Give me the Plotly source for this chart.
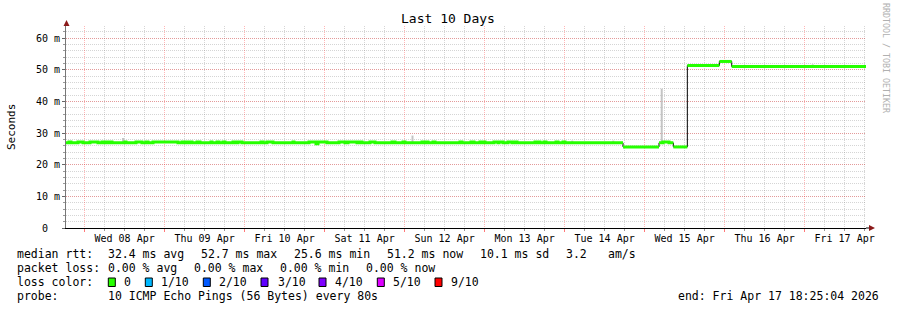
import plotly.graph_objects as go

# ---------------- data ----------------
start_time = "2026-04-07 18:25:04"
end_time = "2026-04-17 18:25:04"

# median RTT (ms) as a step series: start of each step and its value
median_time = [
    "2026-04-07 18:25", "2026-04-07 19:19", "2026-04-07 19:55", "2026-04-07 22:01", "2026-04-07 23:31",
    "2026-04-08 01:37", "2026-04-08 04:01", "2026-04-08 05:13", "2026-04-08 05:31", "2026-04-08 06:25",
    "2026-04-08 06:43", "2026-04-08 07:37", "2026-04-08 08:13", "2026-04-08 12:07", "2026-04-08 12:25",
    "2026-04-08 15:25", "2026-04-08 17:13", "2026-04-08 18:25", "2026-04-08 19:01", "2026-04-08 20:31",
    "2026-04-09 04:01", "2026-04-09 05:13", "2026-04-09 05:31", "2026-04-09 06:25", "2026-04-09 06:43",
    "2026-04-09 07:37", "2026-04-09 08:13", "2026-04-09 09:43", "2026-04-09 10:37", "2026-04-09 13:55",
    "2026-04-09 14:13", "2026-04-09 15:43", "2026-04-09 16:19", "2026-04-09 17:31", "2026-04-09 18:07",
    "2026-04-09 20:31", "2026-04-09 21:07", "2026-04-09 22:01", "2026-04-09 23:13", "2026-04-10 04:55",
    "2026-04-10 05:31", "2026-04-10 06:43", "2026-04-10 08:31", "2026-04-10 14:31", "2026-04-10 14:49",
    "2026-04-10 19:19", "2026-04-10 21:25", "2026-04-10 22:01", "2026-04-11 00:43", "2026-04-11 04:19",
    "2026-04-11 06:07", "2026-04-11 07:01", "2026-04-11 09:43", "2026-04-11 10:19", "2026-04-11 11:13",
    "2026-04-11 13:37", "2026-04-11 15:07", "2026-04-11 20:13", "2026-04-11 21:07", "2026-04-11 23:31",
    "2026-04-12 00:07", "2026-04-12 05:13", "2026-04-12 05:31", "2026-04-12 06:25", "2026-04-12 07:01",
    "2026-04-12 08:31", "2026-04-12 09:07", "2026-04-12 16:37", "2026-04-12 17:13", "2026-04-12 19:55",
    "2026-04-12 20:49", "2026-04-12 22:37", "2026-04-12 23:13", "2026-04-12 23:31", "2026-04-13 00:07",
    "2026-04-13 02:49", "2026-04-13 04:01", "2026-04-13 04:19", "2026-04-13 05:31", "2026-04-13 07:01",
    "2026-04-13 08:13", "2026-04-13 09:07", "2026-04-13 09:43", "2026-04-13 15:07", "2026-04-13 15:43",
    "2026-04-13 16:01", "2026-04-13 16:37", "2026-04-13 17:49", "2026-04-13 18:25", "2026-04-13 21:25",
    "2026-04-13 22:01", "2026-04-13 23:31", "2026-04-14 00:07", "2026-04-14 17:31", "2026-04-15 04:19",
    "2026-04-15 05:31", "2026-04-15 07:19", "2026-04-15 08:37", "2026-04-15 12:49", "2026-04-15 22:25",
    "2026-04-16 02:08",
]
median_ms = [
    26.9, 27.2, 26.9, 27.2, 26.9,
    27.2, 26.9, 27.2, 26.9, 27.2,
    26.9, 27.2, 26.9, 27.2, 26.9,
    27.2, 26.9, 27.2, 26.9, 27.2,
    26.9, 27.2, 26.9, 27.2, 26.9,
    27.2, 26.9, 27.2, 26.9, 27.2,
    26.9, 27.2, 26.9, 27.2, 26.9,
    27.2, 26.9, 27.2, 26.9, 27.2,
    26.9, 27.2, 26.9, 27.2, 26.9,
    27.2, 26.6, 27.2, 26.9, 27.2,
    26.9, 27.2, 26.9, 27.2, 26.9,
    27.2, 26.9, 27.2, 26.9, 27.2,
    26.9, 27.2, 26.9, 27.2, 26.9,
    27.2, 26.9, 27.2, 26.9, 27.2,
    26.9, 27.2, 26.9, 27.2, 26.9,
    27.2, 26.9, 27.2, 26.9, 27.2,
    26.9, 27.2, 26.9, 27.2, 26.9,
    27.2, 26.9, 27.2, 26.9, 27.2,
    26.9, 27.2, 26.9, 25.6, 26.9,
    27.2, 26.9, 25.6, 51.3, 52.6,
    51.0,
]

# smoke (spread of individual pings), visible spikes only
smoke_time = ["2026-04-08 11:31", "2026-04-12 02:22", "2026-04-14 02:18", "2026-04-14 14:37",
              "2026-04-15 05:08", "2026-04-17 02:26"]
smoke_low = [27.0, 27.0, 27.0, 27.0, 27.0, 51.0]
smoke_high = [28.4, 29.2, 27.6, 27.6, 44.0, 51.7]

y_ticks = [0, 10, 20, 30, 40, 50, 60]
y_tick_text = ["0\u00a0\u00a0", "10 m", "20 m", "30 m", "40 m", "50 m", "60 m"]

loss_labels = ["0", "1/10", "2/10", "3/10", "4/10", "5/10", "9/10"]
loss_colors = ["#26ff00", "#00b8ff", "#0059ff", "#5e00ff", "#7e00ff", "#dd00ff", "#ff0000"]

stats_rtt = ["32.4 ms avg", "52.7 ms max", "25.6 ms min", "51.2 ms now", "10.1 ms sd", "3.2", "am/s"]
stats_loss = ["0.00 % avg", "0.00 % max", "0.00 % min", "0.00 % now"]

# ---------------- layout geometry ----------------
W, H = 897, 310
L, R, T, B = 66, 31, 26, 82
PW, PH = W - L - R, H - T - B
FONT = "DejaVu Sans Mono"


def fx(px):
    return (px - L) / PW


def fy(py):
    return (T + PH - py) / PH


fig = go.Figure()

# smoke
sx, sy = [], []
for t, lo, hi in zip(smoke_time, smoke_low, smoke_high):
    sx += [t, t, None]
    sy += [lo, hi, None]
fig.add_trace(go.Scatter(x=sx, y=sy, mode="lines", line=dict(color="#c4c4c4", width=2),
                         hoverinfo="skip", showlegend=False))

# black median step line
bx = median_time + [end_time]
by = median_ms + [median_ms[-1]]
fig.add_trace(go.Scatter(x=bx, y=by, mode="lines", line=dict(color="#000000", width=1, shape="hv"),
                         hoverinfo="skip", showlegend=False))

# green (0 loss) median segments, horizontal only at big jumps
gx, gy = [], []
n = len(median_time)
for i in range(n):
    t0 = median_time[i]
    t1 = median_time[i + 1] if i + 1 < n else end_time
    gx += [t0, t1]
    gy += [median_ms[i], median_ms[i]]
    if i + 1 < n and abs(median_ms[i + 1] - median_ms[i]) >= 1.0:
        gx.append(None)
        gy.append(None)
fig.add_trace(go.Scatter(x=gx, y=gy, mode="lines", line=dict(color=loss_colors[0], width=3),
                         hoverinfo="skip", showlegend=False))

fig.update_xaxes(
    type="date", range=[start_time, end_time],
    dtick=86400000, tick0="2026-04-08", tickformat="%a %d %b", ticklabelmode="period",
    showgrid=True, gridcolor="rgba(255,32,32,0.33)", griddash="1px,1px", gridwidth=1,
    minor=dict(dtick=21600000, showgrid=True, gridcolor="rgba(128,128,128,0.33)",
               griddash="1px,1px", ticks="outside", ticklen=2, tickcolor="#999"),
    ticks="outside", ticklen=3, tickcolor="rgba(255,32,32,0.6)",
    showline=True, linecolor="#000", linewidth=1,
    tickfont=dict(family=FONT, size=10, color="#000"), ticklabelstandoff=-2,
    zeroline=False, fixedrange=True,
)
fig.update_yaxes(
    range=[0, 63.8], tickvals=y_ticks, ticktext=y_tick_text,
    showgrid=True, gridcolor="rgba(255,32,32,0.33)", griddash="1px,1px", gridwidth=1,
    minor=dict(dtick=2, showgrid=True, gridcolor="rgba(128,128,128,0.33)", griddash="1px,1px",
               ticks="outside", ticklen=2, tickcolor="#999"),
    ticks="outside", ticklen=3, tickcolor="#666",
    showline=True, linecolor="#777", linewidth=1,
    tickfont=dict(family=FONT, size=10, color="#000"),
    zeroline=False, fixedrange=True,
)

shapes = []
# y axis extension + arrow
shapes.append(dict(type="line", xref="paper", yref="paper", x0=fx(66.5), x1=fx(66.5), y0=1, y1=fy(22),
                   line=dict(color="#777", width=1)))
shapes.append(dict(type="path", xref="paper", yref="paper", xsizemode="pixel", ysizemode="pixel",
                   xanchor=fx(66.5), yanchor=fy(20),
                   path="M -3 -6 L 3 -6 L 0 0 Z", fillcolor="#8b1a1a", line=dict(width=0)))
# x axis extension + arrow
shapes.append(dict(type="line", xref="paper", yref="paper", x0=1, x1=fx(870), y0=0, y1=0,
                   line=dict(color="#000", width=1)))
shapes.append(dict(type="path", xref="paper", yref="paper", xsizemode="pixel", ysizemode="pixel",
                   xanchor=fx(869), yanchor=fy(228),
                   path="M 0 -3 L 0 3 L 6 0 Z", fillcolor="#8b1a1a", line=dict(width=0)))

annotations = []


def txt(x, y, s, size=11.5, anchor="left", color="#000", angle=0):
    annotations.append(dict(xref="paper", yref="paper", x=fx(x), y=fy(y), text=s, showarrow=False,
                            xanchor=anchor, yanchor="middle", borderpad=0, textangle=angle,
                            font=dict(family=FONT, size=size, color=color)))


txt(447.5, 19, "Last 10 Days", size=13, anchor="center")
txt(11, 127, "Seconds", size=11, anchor="center", angle=-90)
txt(886, 58, "RRDTOOL / TOBI OETIKER", size=8.3, anchor="center", color="#b0b0b0", angle=90)

# legend lines
txt(16, 254, "median rtt:")
for xpos, s in zip([107.3, 200, 293.3, 386, 479.3, 565, 607.3], stats_rtt):
    txt(xpos, 254, s)
txt(16, 268, "packet loss:")
for xpos, s in zip([107.3, 193.3, 279.3, 365.3], stats_loss):
    txt(xpos, 268, s)
txt(16, 282, "loss color:")
box_x = [108.3, 145.3, 203.3, 261.0, 319.0, 377.3, 435.0]
lab_x = [123.3, 160.0, 218.3, 276.7, 334.0, 392.3, 450.0]
for bxp, lxp, lab, col in zip(box_x, lab_x, loss_labels, loss_colors):
    shapes.append(dict(type="rect", xref="paper", yref="paper", x0=fx(bxp), x1=fx(bxp + 7),
                       y0=fy(286.5), y1=fy(278), fillcolor=col, line=dict(color="#000", width=1)))
    txt(lxp, 282, lab)
txt(16, 296, "probe:")
txt(107.3, 296, "10 ICMP Echo Pings (56 Bytes) every 80s")
txt(880, 296, "end: Fri Apr 17 18:25:04 2026", anchor="right")

fig.update_layout(
    width=W, height=H, margin=dict(l=L, r=R, t=T, b=B, pad=0),
    paper_bgcolor="#ffffff", plot_bgcolor="#ffffff",
    showlegend=False, shapes=shapes, annotations=annotations,
    font=dict(family=FONT, size=10, color="#000"),
)

fig.write_html("out.html", config={"displayModeBar": False})
